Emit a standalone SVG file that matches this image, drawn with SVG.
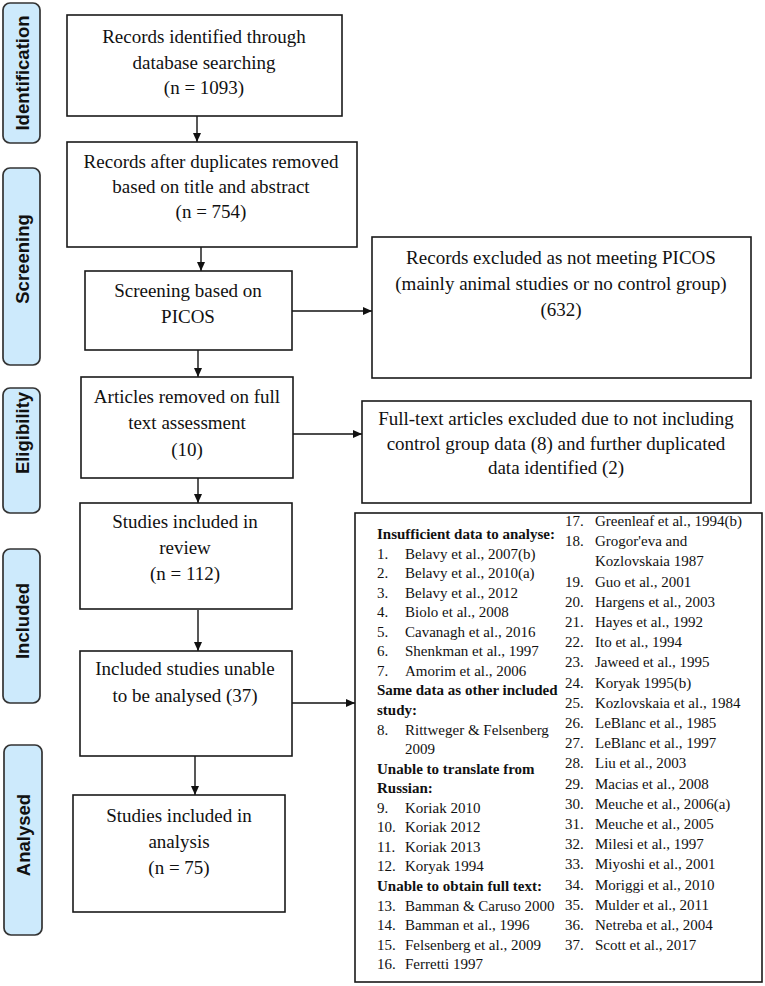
<svg xmlns="http://www.w3.org/2000/svg" width="765" height="986" viewBox="0 0 765 986">
<style>
.bg{fill:#ffffff}
.pill{fill:#cdeafc;stroke:#333333;stroke-width:1.7}
.pl{font-family:"Liberation Sans",Arial,sans-serif;font-weight:bold;font-size:18.5px;fill:#111;text-anchor:middle}
.box{fill:#ffffff;stroke:#1a1a1a;stroke-width:1.6}
.bt{font-family:"Liberation Serif","Times New Roman",serif;font-size:19px;fill:#111;text-anchor:middle}
.lt{font-family:"Liberation Serif","Times New Roman",serif;font-size:15px;fill:#111}
.hb{font-weight:bold}
.cn{stroke:#111;stroke-width:1.4;fill:none;marker-end:url(#ah)}
</style>
<defs>
<marker id="ah" markerUnits="userSpaceOnUse" markerWidth="9" markerHeight="8" refX="9" refY="4" orient="auto">
<path d="M0,0 L9,4 L0,8 z" fill="#111"/>
</marker>
</defs>
<rect class="bg" x="0" y="0" width="765" height="986"/>

<g id="stage-identification">
<rect class="pill" x="3" y="3" width="37" height="140" rx="7"/>
<text class="pl" transform="translate(22,73) rotate(-90)" y="6.5">Identification</text>
</g>
<g id="stage-screening">
<rect class="pill" x="3" y="168" width="37" height="197" rx="7"/>
<text class="pl" transform="translate(22,259) rotate(-90)" y="6.5">Screening</text>
</g>
<g id="stage-eligibility">
<rect class="pill" x="3" y="388" width="37" height="125" rx="7"/>
<text class="pl" transform="translate(22,433) rotate(-90)" y="6.5">Eligibility</text>
</g>
<g id="stage-included">
<rect class="pill" x="3" y="549" width="37" height="154" rx="7"/>
<text class="pl" transform="translate(22,621) rotate(-90)" y="6.5">Included</text>
</g>
<g id="stage-analysed">
<rect class="pill" x="4" y="745" width="38" height="190" rx="7"/>
<text class="pl" transform="translate(23,835) rotate(-90)" y="6.5">Analysed</text>
</g>

<g id="connectors">
<line class="cn" x1="197" y1="116" x2="197" y2="142"/>
<line class="cn" x1="201" y1="247" x2="201" y2="271"/>
<line class="cn" x1="292" y1="311" x2="372" y2="311"/>
<line class="cn" x1="198" y1="350" x2="198" y2="377"/>
<line class="cn" x1="293" y1="434" x2="362" y2="434"/>
<line class="cn" x1="198" y1="478" x2="198" y2="503"/>
<line class="cn" x1="198" y1="610" x2="198" y2="651"/>
<line class="cn" x1="292" y1="703" x2="355" y2="703"/>
<line class="cn" x1="195" y1="756" x2="195" y2="795"/>
</g>

<g id="node-identified">
<rect class="box" x="67" y="15" width="275" height="101"/>
<text class="bt" x="204" y="43">Records identified through</text>
<text class="bt" x="204" y="69">database searching</text>
<text class="bt" x="204" y="94">(n = 1093)</text>
</g>
<g id="node-duplicates">
<rect class="box" x="67" y="142" width="290" height="105"/>
<text class="bt" x="211" y="168">Records after duplicates removed</text>
<text class="bt" x="211" y="193">based on title and abstract</text>
<text class="bt" x="211" y="218">(n = 754)</text>
</g>
<g id="node-screening">
<rect class="box" x="85" y="271" width="207" height="79"/>
<text class="bt" x="188" y="297">Screening based on</text>
<text class="bt" x="188" y="323">PICOS</text>
</g>
<g id="node-excluded-picos">
<rect class="box" x="372" y="237" width="379" height="141"/>
<text class="bt" x="561" y="264">Records excluded as not meeting PICOS</text>
<text class="bt" x="561" y="290">(mainly animal studies or no control group)</text>
<text class="bt" x="561" y="316">(632)</text>
</g>
<g id="node-fulltext">
<rect class="box" x="81" y="377" width="212" height="101"/>
<text class="bt" x="187" y="403">Articles removed on full</text>
<text class="bt" x="187" y="429">text assessment</text>
<text class="bt" x="187" y="456">(10)</text>
</g>
<g id="node-excluded-fulltext">
<rect class="box" x="362" y="401" width="389" height="102"/>
<text class="bt" x="556" y="425">Full-text articles excluded due to not including</text>
<text class="bt" x="556" y="450">control group data (8) and further duplicated</text>
<text class="bt" x="556" y="474">data identified (2)</text>
</g>
<g id="node-review">
<rect class="box" x="80" y="503" width="212" height="106"/>
<text class="bt" x="185" y="528">Studies included in</text>
<text class="bt" x="185" y="554">review</text>
<text class="bt" x="185" y="580">(n = 112)</text>
</g>
<g id="node-unable">
<rect class="box" x="80" y="651" width="212" height="105"/>
<text class="bt" x="185" y="675">Included studies unable</text>
<text class="bt" x="185" y="702">to be analysed (37)</text>
</g>
<g id="node-analysis">
<rect class="box" x="73" y="795" width="212" height="117"/>
<text class="bt" x="179" y="822">Studies included in</text>
<text class="bt" x="179" y="848">analysis</text>
<text class="bt" x="179" y="874">(n = 75)</text>
</g>

<g id="node-list">
<rect class="box" x="355" y="513" width="407" height="469"/>
<text class="lt hb" x="377" y="539">Insufficient data to analyse:</text>
<text class="lt" x="377" y="558.6">1.</text><text class="lt" x="405" y="558.6">Belavy et al., 2007(b)</text>
<text class="lt" x="377" y="578.1">2.</text><text class="lt" x="405" y="578.1">Belavy et al., 2010(a)</text>
<text class="lt" x="377" y="597.7">3.</text><text class="lt" x="405" y="597.7">Belavy et al., 2012</text>
<text class="lt" x="377" y="617.2">4.</text><text class="lt" x="405" y="617.2">Biolo et al., 2008</text>
<text class="lt" x="377" y="636.8">5.</text><text class="lt" x="405" y="636.8">Cavanagh et al., 2016</text>
<text class="lt" x="377" y="656.3">6.</text><text class="lt" x="405" y="656.3">Shenkman et al., 1997</text>
<text class="lt" x="377" y="675.9">7.</text><text class="lt" x="405" y="675.9">Amorim et al., 2006</text>
<text class="lt hb" x="377" y="695.4">Same data as other included</text>
<text class="lt hb" x="377" y="715">study:</text>
<text class="lt" x="377" y="734.5">8.</text><text class="lt" x="405" y="734.5">Rittweger &amp; Felsenberg</text>
<text class="lt" x="405" y="754.1">2009</text>
<text class="lt hb" x="377" y="773.6">Unable to translate from</text>
<text class="lt hb" x="377" y="793.2">Russian:</text>
<text class="lt" x="377" y="812.7">9.</text><text class="lt" x="405" y="812.7">Koriak 2010</text>
<text class="lt" x="377" y="832.3">10.</text><text class="lt" x="405" y="832.3">Koriak 2012</text>
<text class="lt" x="377" y="851.8">11.</text><text class="lt" x="405" y="851.8">Koriak 2013</text>
<text class="lt" x="377" y="871.4">12.</text><text class="lt" x="405" y="871.4">Koryak 1994</text>
<text class="lt hb" x="377" y="890.9">Unable to obtain full text:</text>
<text class="lt" x="377" y="910.5">13.</text><text class="lt" x="405" y="910.5">Bamman &amp; Caruso 2000</text>
<text class="lt" x="377" y="930">14.</text><text class="lt" x="405" y="930">Bamman et al., 1996</text>
<text class="lt" x="377" y="949.6">15.</text><text class="lt" x="405" y="949.6">Felsenberg et al., 2009</text>
<text class="lt" x="377" y="969.1">16.</text><text class="lt" x="405" y="969.1">Ferretti 1997</text>

<text class="lt" x="565" y="526">17.</text><text class="lt" x="595" y="526">Greenleaf et al., 1994(b)</text>
<text class="lt" x="565" y="546.2">18.</text><text class="lt" x="595" y="546.2">Grogor'eva and</text>
<text class="lt" x="595" y="566.4">Kozlovskaia 1987</text>
<text class="lt" x="565" y="586.6">19.</text><text class="lt" x="595" y="586.6">Guo et al., 2001</text>
<text class="lt" x="565" y="606.8">20.</text><text class="lt" x="595" y="606.8">Hargens et al., 2003</text>
<text class="lt" x="565" y="627">21.</text><text class="lt" x="595" y="627">Hayes et al., 1992</text>
<text class="lt" x="565" y="647.2">22.</text><text class="lt" x="595" y="647.2">Ito et al., 1994</text>
<text class="lt" x="565" y="667.4">23.</text><text class="lt" x="595" y="667.4">Jaweed et al., 1995</text>
<text class="lt" x="565" y="687.6">24.</text><text class="lt" x="595" y="687.6">Koryak 1995(b)</text>
<text class="lt" x="565" y="707.8">25.</text><text class="lt" x="595" y="707.8">Kozlovskaia et al., 1984</text>
<text class="lt" x="565" y="728">26.</text><text class="lt" x="595" y="728">LeBlanc et al., 1985</text>
<text class="lt" x="565" y="748.2">27.</text><text class="lt" x="595" y="748.2">LeBlanc et al., 1997</text>
<text class="lt" x="565" y="768.4">28.</text><text class="lt" x="595" y="768.4">Liu et al., 2003</text>
<text class="lt" x="565" y="788.6">29.</text><text class="lt" x="595" y="788.6">Macias et al., 2008</text>
<text class="lt" x="565" y="808.8">30.</text><text class="lt" x="595" y="808.8">Meuche et al., 2006(a)</text>
<text class="lt" x="565" y="829">31.</text><text class="lt" x="595" y="829">Meuche et al., 2005</text>
<text class="lt" x="565" y="849.2">32.</text><text class="lt" x="595" y="849.2">Milesi et al., 1997</text>
<text class="lt" x="565" y="869.4">33.</text><text class="lt" x="595" y="869.4">Miyoshi et al., 2001</text>
<text class="lt" x="565" y="889.6">34.</text><text class="lt" x="595" y="889.6">Moriggi et al., 2010</text>
<text class="lt" x="565" y="909.8">35.</text><text class="lt" x="595" y="909.8">Mulder et al., 2011</text>
<text class="lt" x="565" y="930">36.</text><text class="lt" x="595" y="930">Netreba et al., 2004</text>
<text class="lt" x="565" y="950.2">37.</text><text class="lt" x="595" y="950.2">Scott et al., 2017</text>
</g>
</svg>
